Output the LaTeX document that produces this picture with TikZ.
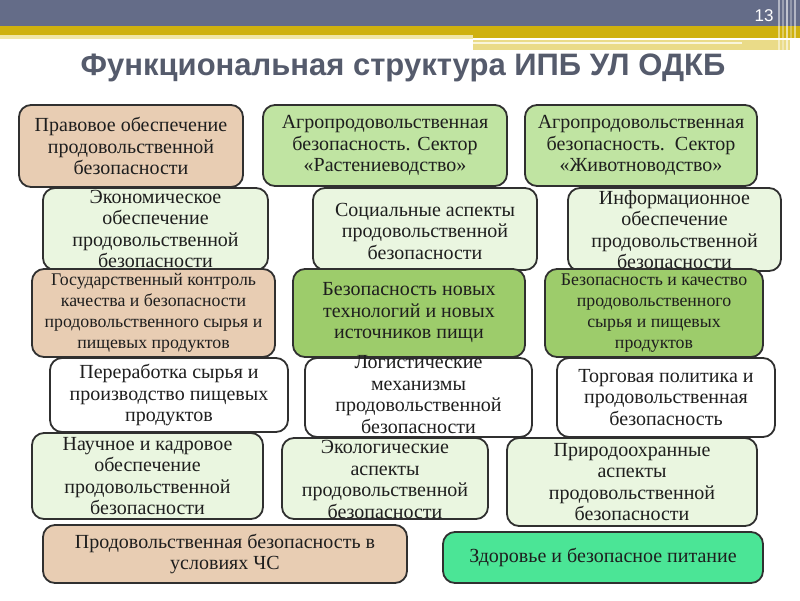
\documentclass[tikz,border=0pt]{standalone}
\usepackage{fontspec}
\setmainfont{Liberation Serif}
\newfontfamily\titlefont{Liberation Sans}
\definecolor{barslate}{HTML}{646C88}
\definecolor{bargold}{HTML}{CFB10E}
\definecolor{barpale}{HTML}{F1E6A6}
\definecolor{titlegray}{HTML}{555B6C}
\definecolor{tanfill}{HTML}{E8CDB3}
\definecolor{greenfill}{HTML}{C0E4A2}
\definecolor{lightfill}{HTML}{EAF6E0}
\definecolor{midfill}{HTML}{9DCC6B}
\definecolor{brightfill}{HTML}{4BE596}
\definecolor{edgegray}{HTML}{303030}
\definecolor{textgray}{HTML}{1E1E1E}
\tikzset{
  box/.style={draw=edgegray, line width=1.8pt, rounded corners=12pt, rectangle, inner sep=0pt},
  txt/.style={align=center, text=textgray, inner sep=0pt, font=\fontsize{20}{21.5}\selectfont},
  smalltxt/.style={align=center, text=textgray, inner sep=0pt, font=\fontsize{17.8}{21.2}\selectfont},
}
\newcommand{\mybox}[6]{%
  \node[box, fill=#6, minimum width={#3-#1}, minimum height={#4-#2}] (#5) at ({(#1+#3)/2},{(#2+#4)/2}) {};
}
\begin{document}
\begin{tikzpicture}[x=1pt,y=-1pt]
\useasboundingbox (0,0) rectangle (800,600);
\fill[white] (0,0) rectangle (800,600);
% header
\fill[barslate] (0,0) rectangle (800,26);
\fill[bargold] (0,26) rectangle (800,35);
\fill[barpale] (0,35) rectangle (473,39);
\fill[bargold] (473,26) rectangle (800,38);
\fill[barpale!80!bargold] (473,40) rectangle (790,50);
\draw[line width=2pt, color=barpale!40!white] (473,43) -- (742,43);
\foreach \xx/\op in {779/0.5,783/0.35,787/0.6,791/0.3,795/0.5}
  \draw[white, opacity=\op, line width=1.2pt] (\xx,0) -- (\xx,52);
\node[text=white, font=\titlefont\fontsize{17}{17}\selectfont] (pagenum) at (764,16) {13};
\node[text=titlegray, font=\titlefont\bfseries\fontsize{31}{31}\selectfont] (title) at (403,68) {Функциональная структура ИПБ УЛ ОДКБ};
% boxes
\mybox{19}{105}{243}{187}{a}{tanfill}
\node[txt] (at) at (a) {Правовое обеспечение\\продовольственной\\безопасности};
\mybox{263}{105}{507}{186}{b}{greenfill}
\node[txt] (bt) at (b) {Агропродовольственная\\безопасность. Сектор\\«Растениеводство»};
\mybox{525}{105}{757}{186}{c}{greenfill}
\node[txt] (ct) at (c) {Агропродовольственная\\безопасность.\ \ Сектор\\«Животноводство»};
\mybox{43}{188}{268}{270}{d}{lightfill}
\node[txt] (dt) at (d) {Экономическое\\обеспечение\\продовольственной\\безопасности};
\mybox{313}{188}{537}{270}{e}{lightfill}
\node[txt] (et) at ([yshift=-2pt]e.center) {Социальные аспекты\\продовольственной\\безопасности};
\mybox{568}{188}{781}{271}{f}{lightfill}
\node[txt] (ft) at (f) {Информационное\\обеспечение\\продовольственной\\безопасности};
\mybox{32}{269}{275}{357}{g}{tanfill}
\node[smalltxt] (gt) at (g) {Государственный\ контроль\\качества и безопасности\\продовольственного сырья и\\пищевых\ продуктов};
\mybox{293}{269}{525}{357}{h}{midfill}
\node[txt] (ht) at (h) {Безопасность новых\\технологий и новых\\источников пищи};
\mybox{545}{269}{763}{357}{i}{midfill}
\node[smalltxt] (it) at (i) {Безопасность\ и качество\\продовольственного\\сырья и пищевых\\продуктов};
\mybox{50}{358}{288}{432}{j}{white}
\node[txt] (jt) at (j) {Переработка сырья и\\производство пищевых\\продуктов};
\mybox{305}{358}{532}{437}{k}{white}
\node[txt] (kt) at ([yshift=3pt]k.center) {Логистические\\механизмы\\продовольственной\\безопасности};
\mybox{557}{358}{775}{437}{l}{white}
\node[txt] (lt) at (l) {Торговая политика и\\продовольственная\\безопасность};
\mybox{32}{433}{263}{519}{m}{lightfill}
\node[txt] (mt) at (m) {Научное и кадровое\\обеспечение\\продовольственной\\безопасности};
\mybox{282}{438}{488}{519}{n}{lightfill}
\node[txt] (nt) at ([yshift=-1pt]n.center) {Экологические\\аспекты\\продовольственной\\безопасности};
\mybox{507}{438}{757}{526}{o}{lightfill}
\node[txt] (ot) at (o) {Природоохранные\\аспекты\\продовольственной\\безопасности};
\mybox{43}{525}{407}{583}{p}{tanfill}
\node[txt] (pt) at (p) {Продовольственная безопасность в\\условиях ЧС};
\mybox{443}{532}{763}{583}{q}{brightfill}
\node[txt] (qt) at (q) {Здоровье и безопасное питание};
\end{tikzpicture}
\end{document}
